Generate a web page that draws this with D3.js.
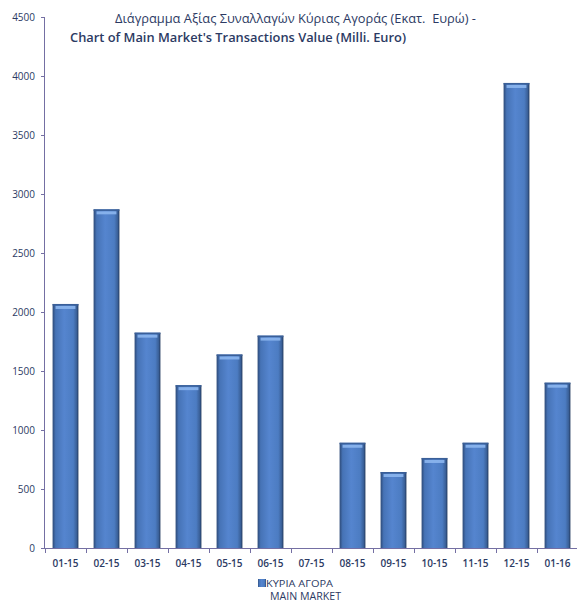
<!DOCTYPE html>
<html><head><meta charset="utf-8">
<script src="https://cdn.jsdelivr.net/npm/d3@7"></script>
<style>
html,body{margin:0;padding:0;background:#fff;}
svg{display:block;font-family:"Liberation Sans",Arial,sans-serif;}
text{white-space:pre;}
</style></head>
<body><svg id="c" width="577" height="604"></svg>
<script>
const categories = ["01-15","02-15","03-15","04-15","05-15","06-15","07-15","08-15","09-15","10-15","11-15","12-15","01-16"];
const values = [2068, 2870, 1825, 1380, 1640, 1800, 0, 892, 644, 763, 892, 3941, 1401];
const yTicks = [0,500,1000,1500,2000,2500,3000,3500,4000,4500];
const titleLines = ["Διάγραμμα Αξίας Συναλλαγών Κύριας Αγοράς (Εκατ.  Ευρώ) -", "Chart of Main Market's Transactions Value (Milli. Euro)"];
const legendLines = ["ΚΥΡΙΑ ΑΓΟΡΑ", "MAIN MARKET"];

const svg = d3.select("#c");
const textCol = "#2c3a63", axisCol = "#746fa3";
const semi = "'Open Sans', 'Liberation Sans', sans-serif";

const x = d3.scaleBand().domain(categories).range([45, 578]).paddingInner(0.37).paddingOuter(0.185);
const y = d3.scaleLinear().domain([0, 4500]).range([548, 17]);

const defs = svg.append("defs");
const g = defs.append("linearGradient").attr("id","bg").attr("x1","0").attr("x2","1").attr("y1","0").attr("y2","0");
[[0,"#2d4a78"],[0.12,"#4673b6"],[0.45,"#5585cf"],[0.8,"#4c7cc2"],[0.93,"#3a6098"],[1,"#22395e"]]
  .forEach(([o,c]) => g.append("stop").attr("offset",o).attr("stop-color",c));

// y axis
const yAxis = d3.axisLeft(y).tickValues(yTicks).tickFormat(d3.format("d")).tickSize(4).tickPadding(6);
const ya = svg.append("g").attr("transform","translate(45,0)").call(yAxis);
ya.select(".domain").attr("stroke",axisCol).attr("d","M-0.5,17.5V548.5");
ya.selectAll(".tick line").attr("stroke",axisCol);
ya.selectAll(".tick text").attr("fill",textCol).attr("font-size","10px").attr("font-family",semi).attr("font-weight","500");

// bars
const bars = svg.append("g");
bars.selectAll("rect.bar").data(values).join("rect").attr("class","bar")
  .attr("x",(d,i)=>x(categories[i])).attr("width",x.bandwidth())
  .attr("y",d=>y(d)).attr("height",d=>y(0)-y(d))
  .attr("fill","url(#bg)")
  .attr("display",d=>d>0?null:"none");
bars.selectAll("rect.hl").data(values).join("rect").attr("class","hl")
  .attr("x",(d,i)=>x(categories[i])+3).attr("width",x.bandwidth()-6)
  .attr("y",d=>y(d)+2).attr("height",3)
  .attr("fill","#8cb6ee").attr("opacity",0.9)
  .attr("display",d=>d>0?null:"none");
bars.selectAll("rect.tp").data(values).join("rect").attr("class","tp")
  .attr("x",(d,i)=>x(categories[i])).attr("width",x.bandwidth())
  .attr("y",d=>y(d)).attr("height",1.5)
  .attr("fill","#3a5f98")
  .attr("display",d=>d>0?null:"none");

// x axis
const xAxis = d3.axisBottom(x).tickSize(0).tickPadding(12);
const xa = svg.append("g").attr("transform","translate(0,548)").call(xAxis);
xa.select(".domain").attr("stroke",axisCol).attr("d","M45,0.5H577");
xa.selectAll(".tick text").attr("fill",textCol).attr("font-size","10px").attr("font-weight","600").attr("font-family",semi);
const step = x.step();
xa.selectAll("line.bt").data(categories).join("line").attr("class","bt")
  .attr("x1",c=>Math.round(x(c)-step*x.paddingOuter())+0.5).attr("x2",c=>Math.round(x(c)-step*x.paddingOuter())+0.5)
  .attr("y1",0).attr("y2",5).attr("stroke",axisCol);

// title
svg.append("text").attr("x",115).attr("y",23).attr("fill",textCol).attr("font-size","12px").attr("font-family",semi).attr("font-weight","500")
  .attr("textLength",361).attr("lengthAdjust","spacingAndGlyphs").text(titleLines[0]);
svg.append("text").attr("x",70).attr("y",42).attr("fill",textCol).attr("font-size","12px").attr("font-weight","600").attr("font-family",semi)
  .attr("textLength",336).attr("lengthAdjust","spacingAndGlyphs").text(titleLines[1]);

// legend
svg.append("rect").attr("x",258).attr("y",579).attr("width",8).attr("height",8).attr("fill","url(#bg)");
svg.append("text").attr("x",266).attr("y",587).attr("fill",textCol).attr("font-size","9.5px").attr("font-family",semi).attr("font-weight","500")
  .attr("textLength",67).attr("lengthAdjust","spacingAndGlyphs").text(legendLines[0]);
svg.append("text").attr("x",270).attr("y",600).attr("fill",textCol).attr("font-size","10px").attr("font-family",semi).attr("font-weight","500")
  .attr("textLength",71).attr("lengthAdjust","spacingAndGlyphs").text(legendLines[1]);
</script></body></html>
